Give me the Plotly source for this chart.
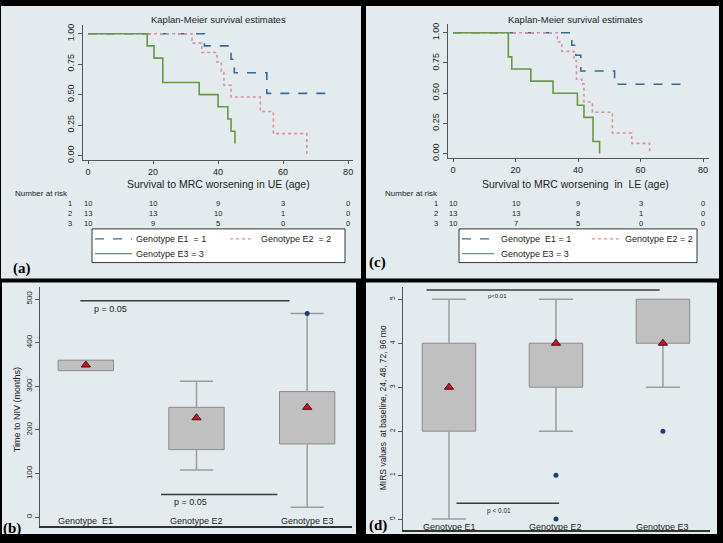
import plotly.graph_objects as go

W, H = 723, 543

# ---------------- data ----------------
# Kaplan-Meier, upper extremities (panel a)
ue_e1_t = [0, 35.8, 44, 45, 55, 73]
ue_e1_s = [1, 0.9, 0.79, 0.68, 0.51, 0.51]
ue_e2_t = [0, 32, 35, 39.7, 41, 41.8, 44, 53, 57, 67.3]
ue_e2_s = [1, 0.923, 0.846, 0.769, 0.692, 0.577, 0.481, 0.361, 0.18, 0]
ue_e3_t = [0, 18.2, 20.3, 23, 34.2, 40, 43, 44, 45.2]
ue_e3_s = [1, 0.9, 0.8, 0.6, 0.5, 0.4, 0.3, 0.2, 0.1]

# Kaplan-Meier, lower extremities (panel c)
le_e1_t = [0, 38, 39.3, 40.9, 51.7, 73.2]
le_e1_s = [1, 0.896, 0.814, 0.683, 0.574, 0.574]
le_e2_t = [0, 33.4, 34.8, 38.7, 39.5, 41.2, 41.9, 44.6, 51, 57.2, 62.9]
le_e2_s = [1, 0.923, 0.846, 0.769, 0.615, 0.577, 0.427, 0.342, 0.171, 0.085, 0]
le_e3_t = [0, 17.7, 18.8, 24.9, 32, 39.8, 41.9, 44.8, 46.9]
le_e3_s = [1, 0.8, 0.7, 0.6, 0.5, 0.4, 0.3, 0.1, 0]

risk_times = [0, 20, 40, 60, 80]
risk_groups = ["1", "2", "3"]
ue_risk = [[10, 10, 9, 3, 0], [13, 13, 10, 1, 0], [10, 9, 5, 0, 0]]
le_risk = [[10, 10, 9, 3, 0], [13, 13, 8, 1, 0], [10, 7, 5, 0, 0]]

km_ticks_x = [0, 20, 40, 60, 80]
km_ticks_y = [0, 0.25, 0.5, 0.75, 1.0]

# Box plots
box_pos = [1, 2, 3]
niv_labels = ["Genotype  E1", "Genotype E2", "Genotype E3"]
niv_q1 = [336, 155, 168]
niv_q3 = [360, 252, 288]
niv_lo = [None, 108, 23]
niv_hi = [None, 312, 467]
niv_mean = [349, 228, 252]
niv_out_x = [3]
niv_out_y = [467]
niv_ticks = [0, 100, 200, 300, 400, 500]

mirs_labels = ["Genotype E1", "Genotype E2", "Genotype E3"]
mirs_q1 = [2, 3, 4]
mirs_q3 = [4, 4, 5]
mirs_lo = [0, 2, 3]
mirs_hi = [5, 5, 5]
mirs_mean = [3, 4, 4]
mirs_out_x = [2, 2, 3]
mirs_out_y = [1, 0, 2]
mirs_ticks = [0, 1, 2, 3, 4, 5]

# ---------------- style ----------------
FONT = "Liberation Sans, Arial, sans-serif"
SERIF = "Liberation Serif, Times New Roman, serif"
C_E1 = "#3d6796"
C_E2 = "#de8f9c"
C_E3 = "#6a9741"
PANEL_BG = "#e3ebee"
GRID = "#e4ecf0"
TXT = "#222222"


def px(x):
    return x / W


def py(y):
    return 1 - y / H


fig = go.Figure()


def km(t, s, color, dash, xa, ya):
    fig.add_trace(go.Scatter(x=t, y=s, mode="lines", line=dict(color=color, dash=dash, width=1.6, shape="hv"),
                             xaxis=xa, yaxis=ya, showlegend=False, hoverinfo="skip"))


km(ue_e1_t, ue_e1_s, C_E1, "dash", "x", "y")
km(ue_e2_t, ue_e2_s, C_E2, "dot", "x", "y")
km(ue_e3_t, ue_e3_s, C_E3, "solid", "x", "y")
km(le_e1_t, le_e1_s, C_E1, "dash", "x2", "y2")
km(le_e2_t, le_e2_s, C_E2, "dot", "x2", "y2")
km(le_e3_t, le_e3_s, C_E3, "solid", "x2", "y2")


def boxes(pos, q1, q3, lo, hi, mean, ox, oy, xa, ya, cap):
    wx, wy, cx, cy = [], [], [], []
    for p, a, b, l, h in zip(pos, q1, q3, lo, hi):
        if h is not None and h > b:
            wx += [p, p, None]
            wy += [b, h, None]
            cx += [p - cap, p + cap, None]
            cy += [h, h, None]
        if l is not None and l < a:
            wx += [p, p, None]
            wy += [a, l, None]
            cx += [p - cap, p + cap, None]
            cy += [l, l, None]
    fig.add_trace(go.Scatter(x=wx + cx, y=wy + cy, mode="lines", line=dict(color="#9c9c9c", width=1.5),
                             xaxis=xa, yaxis=ya, showlegend=False, hoverinfo="skip"))
    fig.add_trace(go.Bar(x=pos, base=q1, y=[b - a for a, b in zip(q1, q3)], width=0.5,
                         marker=dict(color="#c0c0c0", line=dict(color="#8a8a8a", width=1)),
                         xaxis=xa, yaxis=ya, showlegend=False, hoverinfo="skip"))
    fig.add_trace(go.Scatter(x=ox, y=oy, mode="markers", marker=dict(symbol="circle", size=5, color="#1d3f6e"),
                             xaxis=xa, yaxis=ya, showlegend=False, hoverinfo="skip"))
    fig.add_trace(go.Scatter(x=pos, y=mean, mode="markers",
                             marker=dict(symbol="triangle-up", size=8, color="#cc1030",
                                         line=dict(color="#4a0a10", width=1)),
                             xaxis=xa, yaxis=ya, showlegend=False, hoverinfo="skip"))


boxes(box_pos, niv_q1, niv_q3, niv_lo, niv_hi, niv_mean, niv_out_x, niv_out_y, "x3", "y3", 0.15)
boxes(box_pos, mirs_q1, mirs_q3, mirs_lo, mirs_hi, mirs_mean, mirs_out_x, mirs_out_y, "x4", "y4", 0.16)

shapes = []
ann = []

# panel backgrounds
for x0, y0, x1, y1 in [(1, 4, 361, 279), (366, 4, 719, 279), (2, 283, 356, 537), (366, 283, 717, 537)]:
    shapes.append(dict(type="rect", xref="paper", yref="paper", x0=px(x0), x1=px(x1), y0=py(y1), y1=py(y0),
                       fillcolor=PANEL_BG, line=dict(width=0), layer="below"))


def text(t, x, y, size=9, xanchor="center", color=TXT, family=FONT, angle=0, xref="paper", yref="paper"):
    ann.append(dict(text=t, x=x, y=y, xref=xref, yref=yref, showarrow=False, xanchor=xanchor,
                    yanchor="middle", textangle=angle, borderpad=0,
                    font=dict(size=size, color=color, family=family)))


# KM titles, x titles, risk tables, legends
for (cx, xtitle, risk, xr, nx, rx, leg, lbl, lblpos) in [
    (218, "Survival to MRC worsening in UE (age)", ue_risk, "x", 14, 70,
     (92, 345, 95, 132, 230, 252, 135, 260, ["Genotype E1  = 1", "Genotype E2  = 2", "Genotype E3 = 3"]),
     "(a)", (22, 269)),
    (575, "Survival to MRC worsening  in  LE (age)", le_risk, "x2", 384, 436,
     (459, 697, 462, 494, 592, 620, 500, 624, ["Genotype  E1 = 1", "Genotype E2 = 2", "Genotype E3 = 3"]),
     "(c)", (377, 263)),
]:
    text("Kaplan-Meier survival estimates", px(cx), py(18), size=9.5)
    text(xtitle, px(cx), py(184), size=10.5)
    text("Number at risk", px(nx), py(193.5), size=8, xanchor="left")
    # risk table: one multi-line text per column
    text("<br>".join(risk_groups), px(rx), py(213.5), size=7.5)
    for ti, t in enumerate(risk_times):
        text("<br>".join(str(row[ti]) for row in risk), t, py(213.5), size=7.5, xref=xr)
    bx0, bx1, s0, s1, s2a, s2b, tx1, tx2, names = leg
    shapes.append(dict(type="rect", xref="paper", yref="paper", x0=px(bx0), x1=px(bx1), y0=py(263), y1=py(229),
                       fillcolor="white", line=dict(color="#333333", width=1)))
    r1, r2 = 239, 254
    shapes.append(dict(type="line", xref="paper", yref="paper", x0=px(s0), x1=px(s1), y0=py(r1), y1=py(r1),
                       line=dict(color=C_E1, width=1.2, dash="dash")))
    shapes.append(dict(type="line", xref="paper", yref="paper", x0=px(s2a), x1=px(s2b), y0=py(r1), y1=py(r1),
                       line=dict(color=C_E2, width=1.2, dash="dot")))
    shapes.append(dict(type="line", xref="paper", yref="paper", x0=px(s0), x1=px(s1), y0=py(r2), y1=py(r2),
                       line=dict(color=C_E3, width=1.2)))
    text(names[0], px(tx1), py(r1), size=9, xanchor="left")
    text(names[1], px(tx2), py(r1), size=9, xanchor="left")
    text(names[2], px(tx1), py(r2), size=9, xanchor="left")
    text("<b>" + lbl + "</b>", px(lblpos[0]), py(lblpos[1]), size=15, family=SERIF, color="black")

# Box panel labels & annotations
for p, l in zip(box_pos, niv_labels):
    text(l, p, -8, size=9, xref="x3", yref="y3")
for p, l in zip(box_pos, mirs_labels):
    text(l, p, -0.17, size=9, xref="x4", yref="y4")

text("Time to NIV (months)", px(17), py(412), size=9, angle=-90)
text("MIRS values  at baseline, 24, 48, 72, 96 mo", px(383), py(410), size=8.5, angle=-90)

# p-value bars (b)
shapes.append(dict(type="line", xref="x3", yref="y3", x0=0.95, x1=2.84, y0=496, y1=496,
                   line=dict(color="#3a3a3a", width=1.5)))
text("p = 0.05", 1.22, 477, size=9, xref="x3", yref="y3")
shapes.append(dict(type="line", xref="x3", yref="y3", x0=1.68, x1=2.73, y0=52, y1=52,
                   line=dict(color="#3a3a3a", width=1.5)))
text("p = 0.05", 1.95, 34, size=9, xref="x3", yref="y3")
# p-value bars (d)
shapes.append(dict(type="line", xref="x4", yref="y4", x0=0.79, x1=2.97, y0=5.21, y1=5.21,
                   line=dict(color="#3a3a3a", width=1.5)))
text("p<0.01", 1.45, 5.07, size=6, xref="x4", yref="y4")
shapes.append(dict(type="line", xref="x4", yref="y4", x0=1.07, x1=2.03, y0=0.36, y1=0.36,
                   line=dict(color="#3a3a3a", width=1.5)))
text("p < 0.01", 1.47, 0.19, size=6.5, xref="x4", yref="y4")

text("<b>(b)</b>", px(12), py(531), size=15, family=SERIF, color="black")
text("<b>(d)</b>", px(378), py(528), size=15, family=SERIF, color="black")

km_x = dict(tickvals=km_ticks_x, ticks="outside", ticklen=3, tickcolor="#555", showline=True, linecolor="#555",
            linewidth=1, showgrid=False, zeroline=False, tickfont=dict(size=9, color=TXT, family=FONT))
km_y = dict(tickvals=km_ticks_y, tickformat=".2f", ticks="outside", ticklen=4, tickcolor="#555", showline=True,
            linecolor="#555", linewidth=1, showgrid=True, gridcolor=GRID, zeroline=False, tickangle=-90,
            tickfont=dict(size=9, color=TXT, family=FONT), range=[-0.035, 1.07])
bx_x = dict(showticklabels=False, ticks="", showgrid=False, zeroline=False, showline=True, linecolor="#333",
            linewidth=1.5)

fig.update_layout(
    width=W, height=H, margin=dict(l=0, r=0, t=0, b=0),
    paper_bgcolor="black", plot_bgcolor="white", showlegend=False,
    font=dict(family=FONT, color=TXT),
    xaxis=dict(domain=[px(83), px(353)], range=[-1.54, 81.5], anchor="y", **km_x),
    yaxis=dict(domain=[py(159.3), py(23.4)], anchor="x", **km_y),
    xaxis2=dict(domain=[px(448), px(709)], range=[-1.6, 81.9], anchor="y2", **km_x),
    yaxis2=dict(domain=[py(157.3), py(22.5)], anchor="x2", **km_y),
    xaxis3=dict(domain=[px(40), px(352)], range=[0.586, 3.405], anchor="y3", **bx_x),
    yaxis3=dict(domain=[py(528.8), py(288)], range=[-20, 527], anchor="x3", tickvals=niv_ticks, ticks="outside",
                ticklen=4, tickcolor="#555", showline=True, linecolor="#555", linewidth=1, showgrid=True,
                gridcolor=GRID, zeroline=False, tickangle=-90, tickfont=dict(size=8, color=TXT, family=FONT)),
    xaxis4=dict(domain=[px(403), px(710)], range=[0.57, 3.44], anchor="y4", **bx_x),
    yaxis4=dict(domain=[py(533), py(287.6)], range=[-0.25, 5.28], anchor="x4", tickvals=mirs_ticks, ticks="outside",
                ticklen=4, tickcolor="#555", showline=True, linecolor="#555", linewidth=1, showgrid=True,
                gridcolor=GRID, zeroline=False, tickangle=-90, tickfont=dict(size=6.5, color=TXT, family=FONT)),
    shapes=shapes, annotations=ann, barmode="overlay",
)

fig.write_html("out.html")
